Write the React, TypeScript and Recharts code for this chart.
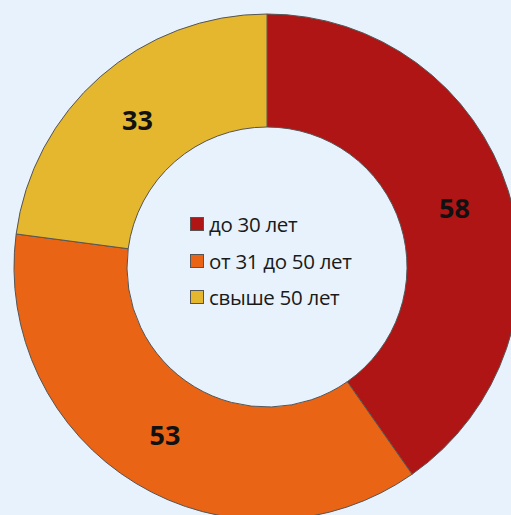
import { PieChart, Pie, Cell, Legend } from 'recharts';

const AGE_GROUPS = ['до 30 лет', 'от 31 до 50 лет', 'свыше 50 лет'];
const COUNTS = [58, 53, 33];
const COLORS = ['#b01515', '#e96414', '#e4b72e'];

const data = AGE_GROUPS.map((name, i) => ({ name, value: COUNTS[i] }));

const RADIAN = Math.PI / 180;

function renderLabel({ cx, cy, midAngle, innerRadius, outerRadius, value }: any) {
  const r = (innerRadius + outerRadius) / 2;
  const x = cx + r * Math.cos(-midAngle * RADIAN);
  const y = cy + r * Math.sin(-midAngle * RADIAN);
  return (
    <text x={x} y={y} textAnchor="middle" dominantBaseline="central" fill="#111" fontSize={27} fontWeight={700} fontFamily="'Open Sans', sans-serif">
      {value}
    </text>
  );
}

function LegendBox() {
  return (
    <div style={{ fontFamily: "'Open Sans', sans-serif", fontSize: 20.5, color: '#1a1a1a', letterSpacing: -0.3 }}>
      {data.map((d, i) => (
        <div key={d.name} style={{ display: 'flex', alignItems: 'center', height: 36.5, whiteSpace: 'nowrap' }}>
          <span style={{ display: 'inline-block', width: 12, height: 12, background: COLORS[i], border: '1px solid #555', marginRight: 5 }} />
          {d.name}
        </div>
      ))}
    </div>
  );
}

export default function App() {
  return (
    <div style={{ position: 'absolute', left: 0, top: 0, width: 511, height: 515, background: '#e7f2fc', overflow: 'hidden' }}>
      <PieChart width={511} height={515} margin={{ top: 0, right: 0, bottom: 0, left: 0 }}>
        <Pie
          data={data}
          dataKey="value"
          nameKey="name"
          cx={267}
          cy={267}
          innerRadius={140}
          outerRadius={253}
          startAngle={90}
          endAngle={-270}
          stroke="#555"
          strokeWidth={1}
          label={renderLabel}
          labelLine={false}
          isAnimationActive={false}
        >
          {data.map((_, i) => (
            <Cell key={i} fill={COLORS[i]} />
          ))}
        </Pie>
        <Legend content={<LegendBox />} wrapperStyle={{ position: 'absolute', left: 190, top: 206, width: 220 }} />
      </PieChart>
    </div>
  );
}
